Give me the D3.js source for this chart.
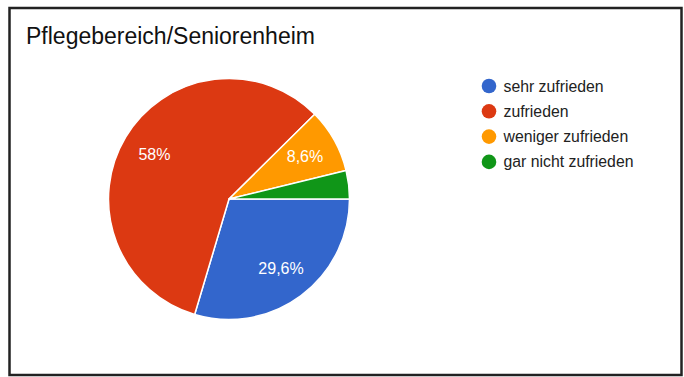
<!DOCTYPE html>
<html>
<head>
<meta charset="utf-8">
<script src="https://cdn.jsdelivr.net/npm/d3@7"></script>
<style>
  html, body { margin: 0; padding: 0; background: #fff; }
</style>
</head>
<body>
<div id="chart"></div>
<script>
// data
const title = "Pflegebereich/Seniorenheim"
const categories = ["sehr zufrieden", "zufrieden", "weniger zufrieden", "gar nicht zufrieden"]
const values = [29.6, 58, 8.6, 3.8]
const colors = ["#3366cc", "#dc3912", "#ff9900", "#109618"]

const width = 684
const height = 377
const cx = 229, cy = 199
const radius = 120.5
const labelRadius = 87

const de = d3.formatLocale({decimal: ",", thousands: ".", grouping: [3], currency: ["", " €"]})
const pct = de.format(".1~f")

const svg = d3.select("#chart").append("svg")
    .attr("width", width)
    .attr("height", height)

// frame
svg.append("rect")
    .attr("x", 9.5).attr("y", 8)
    .attr("width", 672).attr("height", 367)
    .attr("fill", "#fff")
    .attr("stroke", "#222")
    .attr("stroke-width", 2.5)

svg.append("text")
    .attr("x", 26).attr("y", 44)
    .attr("font-family", "Liberation Sans, Arial, sans-serif")
    .attr("font-size", 23)
    .attr("fill", "#111")
    .text(title)

const color = d3.scaleOrdinal(categories, colors)
const total = d3.sum(values)

// pie starts at 3 o'clock and runs clockwise
const arcs = d3.pie()
    .sort(null)
    .startAngle(Math.PI / 2)
    .endAngle(Math.PI / 2 + 2 * Math.PI)
    .value((d, i) => values[i])(categories)

const arc = d3.arc().innerRadius(0).outerRadius(radius)
const arcLabel = d3.arc().innerRadius(labelRadius).outerRadius(labelRadius)

const g = svg.append("g").attr("transform", `translate(${cx},${cy})`)

g.append("g")
    .attr("stroke", "#fff")
    .attr("stroke-width", 1.5)
    .attr("stroke-linejoin", "round")
    .selectAll("path")
    .data(arcs)
    .join("path")
    .attr("fill", d => color(d.data))
    .attr("d", arc)

g.append("g")
    .attr("font-family", "Liberation Sans, Arial, sans-serif")
    .attr("font-size", 16)
    .attr("fill", "#fff")
    .attr("text-anchor", "middle")
    .selectAll("text")
    .data(arcs.filter(d => d.value / total > 0.05))
    .join("text")
    .attr("transform", d => `translate(${arcLabel.centroid(d)})`)
    .attr("dy", "0.35em")
    .text(d => pct(d.value / total * 100) + "%")

// legend
const legend = svg.append("g")
    .attr("font-family", "Liberation Sans, Arial, sans-serif")
    .attr("font-size", 15.8)
    .selectAll("g")
    .data(categories)
    .join("g")
    .attr("transform", (d, i) => `translate(489,${86 + i * 25.3})`)

legend.append("circle")
    .attr("r", 7.3)
    .attr("fill", d => color(d))

legend.append("text")
    .attr("x", 14.5)
    .attr("dy", "0.35em")
    .attr("fill", "#222")
    .text(d => d)
</script>
</body>
</html>
